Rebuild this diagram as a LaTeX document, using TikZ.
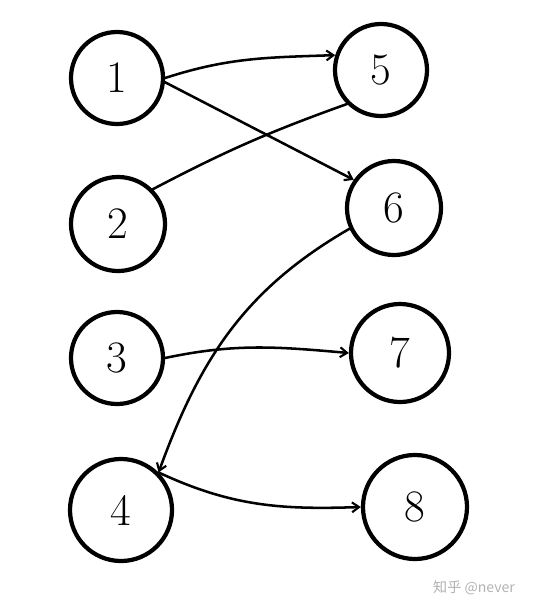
\documentclass[tikz,border=0pt]{standalone}
\usepackage{fontspec}
\newfontfamily\cjk{Noto Sans CJK SC}
\usetikzlibrary{arrows.meta}

\begin{document}
\begin{tikzpicture}[x=0.025cm,y=-0.025cm,
  vertex/.style={draw,circle,line width=3pt,inner sep=0pt,font=\fontsize{32}{32}\selectfont},
  edge/.style={line width=1.8pt,line cap=round},
  arc/.style={edge,-{Straight Barb[length=5pt,width=7pt,line width=1.5pt]}}]
  \useasboundingbox (0,0) rectangle (551,611);
  % left side
  \node (n1) at (117,78) [vertex,minimum size=2.3cm] {1};
  \node (n2) at (118,224) [vertex,minimum size=2.35cm] {2};
  \node (n3) at (117,358) [vertex,minimum size=2.3cm] {3};
  \node (n4) at (121,510) [vertex,minimum size=2.55cm] {4};
  % right side
  \node (n5) at (381,70) [vertex,minimum size=2.3cm] {5};
  \node (n6) at (394,208) [vertex,minimum size=2.35cm] {6};
  \node (n7) at (400,353) [vertex,minimum size=2.45cm] {7};
  \node (n8) at (415,507) [vertex,minimum size=2.6cm] {8};
  % connectors
  \draw[arc] (n1.east) to[out=18,in=182] (n5.162);
  \draw[arc] (n1.-5) -- (n6.145);
  \draw[edge] (n2.north east) to[bend left=4] (n5.south west);
  \draw[arc] (n3.east) to[out=12,in=175] (n7.west);
  \draw[arc] (n6.205) to[out=210,in=70] (n4.north east);
  \draw[arc] (n4.north east) to[out=-25,in=182] (n8.west);
  % watermark
  \node (mark) at (474,588) [text=black!30,font=\cjk\fontsize{10}{10}\selectfont] {知乎 @never};
\end{tikzpicture}
\end{document}
